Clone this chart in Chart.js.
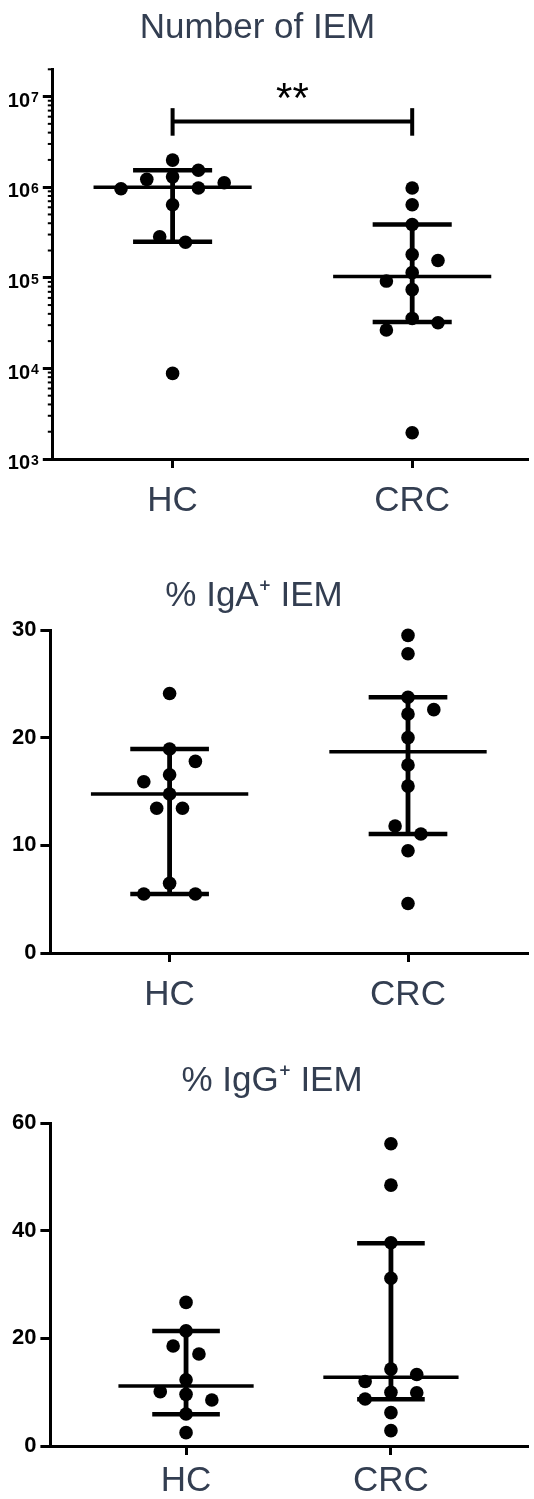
<!DOCTYPE html>
<html><head><meta charset="utf-8">
<script src="https://cdn.jsdelivr.net/npm/chart.js@4.4.1/dist/chart.umd.min.js"></script>
<style>
html,body{margin:0;padding:0;background:#fff;}
body{width:534px;height:1499px;overflow:hidden;position:relative;}
.panel{position:absolute;}
canvas{display:block;}
</style></head><body>
<div class="panel" id="w1"><canvas id="c1"></canvas></div>
<div class="panel" id="w2"><canvas id="c2"></canvas></div>
<div class="panel" id="w3"><canvas id="c3"></canvas></div>
<script>
// ---------------- data ----------------
const categories = ['HC', 'CRC'];

// Number of IEM (log scale)
const iemHC  = [1.99e6, 1.54e6, 1.3e6, 1.22e6, 1.12e6, 9.8e5, 9.6e5, 6.4e5, 2.83e5, 2.47e5, 8.8e3];
const iemCRC = [9.8e5, 6.4e5, 3.87e5, 1.81e5, 1.55e5, 1.14e5, 9.2e4, 7.4e4, 3.56e4, 3.19e4, 2.65e4, 1.95e3];
const iemHCSummary  = [2.5e5, 1.0e6, 1.54e6];   // q1, median, q3
const iemCRCSummary = [3.25e4, 1.03e5, 3.87e5];
const iemTicks = [1e3, 1e4, 1e5, 1e6, 1e7];
const iemSigBracket = [3.7e6, 5.3e6, 7.45e6];    // tick bottom, bar level, tick top
const iemSigLabel = '**';

// % IgA+ IEM
const igaHC  = [24.1, 18.95, 17.8, 16.56, 15.9, 14.77, 13.44, 13.44, 6.47, 5.48, 5.48];
const igaCRC = [29.5, 27.8, 23.75, 22.6, 22.2, 20.0, 17.46, 15.5, 11.8, 11.05, 9.5, 4.6];
const igaHCSummary  = [5.48, 14.77, 18.95];
const igaCRCSummary = [11.05, 18.7, 23.75];
const igaTicks = [0, 10, 20, 30];

// % IgG+ IEM
const iggHC  = [26.7, 21.4, 18.6, 17.1, 12.3, 10.1, 9.6, 8.56, 5.95, 2.48];
const iggCRC = [56.2, 48.5, 37.8, 31.2, 14.3, 13.3, 12.0, 9.98, 9.9, 8.74, 6.2, 2.85];
const iggHCSummary  = [5.9, 11.16, 21.4];
const iggCRCSummary = [8.68, 12.77, 37.7];
const iggTicks = [0, 20, 40, 60];

// ---------------- style / layout ----------------
const FONT = '"Liberation Sans", Arial, Helvetica, sans-serif';
const SLATE = '#333e51';
const SWARM_STEP = 25.8;   // px between swarm columns
const SWARM_GAP = 14;      // px vertical distance that counts as overlap
const MEDIAN_HALF = 0.33, CAP_HALF = 0.165;

const panels = [
  { canvas:'c1', wrap:'w1', title:'Number of IEM', hc:iemHC, crc:iemCRC, hcSum:iemHCSummary, crcSum:iemCRCSummary,
    ticks:iemTicks, log:true, yMin:1e3, yMax:2e7, xMin:0.5, xMax:2.48,
    box:{left:-19, top:0, width:553, height:540}, area:{left:71.8, top:69.3, bottom:459}, titleMid:28.2, labelPad:13,
    sig:iemSigBracket, sigLabel:iemSigLabel },
  { canvas:'c2', wrap:'w2', title:'% IgA\u207A IEM', hc:igaHC, crc:igaCRC, hcSum:igaHCSummary, crcSum:igaCRCSummary,
    ticks:igaTicks, log:false, yMin:0, yMax:30, xMin:0.5, xMax:2.5,
    box:{left:-26, top:560, width:560, height:455}, area:{left:76.4, top:70, bottom:393}, titleMid:36.2, labelPad:13 },
  { canvas:'c3', wrap:'w3', title:'% IgG\u207A IEM', hc:iggHC, crc:iggCRC, hcSum:iggHCSummary, crcSum:iggCRCSummary,
    ticks:iggTicks, log:false, yMin:0, yMax:60, xMin:0.338, xMax:2.665,
    box:{left:10, top:1050, width:524, height:449}, area:{left:40.4, top:73.3, bottom:396}, titleMid:31.2, labelPad:6 }
];
const panelById = {};
panels.forEach(p => panelById[p.canvas] = p);

function lineDs(data, w) {
  return { type:'line', data, borderColor:'#000', borderWidth:w, pointRadius:0, fill:false,
           tension:0, borderCapStyle:'butt', clip:false, order:2 };
}
function summaryDs(cat, sum) {
  const [q1, med, q3] = sum;
  return [
    lineDs([{x:cat - MEDIAN_HALF, y:med}, {x:cat + MEDIAN_HALF, y:med}], 3.5),
    lineDs([{x:cat, y:q1}, {x:cat, y:q3}], 4.8),
    lineDs([{x:cat - CAP_HALF, y:q3}, {x:cat + CAP_HALF, y:q3}], 4.5),
    lineDs([{x:cat - CAP_HALF, y:q1}, {x:cat + CAP_HALF, y:q1}], 4.5)
  ];
}
function pointsDs(cat, vals) {
  return { type:'scatter', data: vals.map(v => ({x:cat, y:v})), pointRadius:6.8, pointHoverRadius:6.8,
           pointBackgroundColor:'#000', pointBorderWidth:0, showLine:false, clip:false, order:1 };
}
// beeswarm: top-down greedy, alternating sides; isolated overlapping pairs are centred (±0.5)
function swarmColumns(vals, yScale) {
  const py = vals.map(v => yScale.getPixelForValue(v));
  const idx = vals.map((v, i) => i).sort((a, b) => py[a] - py[b]);
  const placed = [], cols = new Array(vals.length);
  let lastSide = -1;
  idx.forEach(i => {
    const order = [0];
    for (let k = 1; k <= 4; k++) order.push(-lastSide * k, lastSide * k);
    for (const c of order) {
      if (!placed.some(p => p.c === c && Math.abs(p.y - py[i]) < SWARM_GAP)) {
        cols[i] = c; placed.push({c, y:py[i]});
        if (c !== 0) lastSide = Math.sign(c);
        break;
      }
    }
  });
  let comp = [idx[0]];
  const flush = () => { if (comp.length === 2) { cols[comp[0]] = -0.5; cols[comp[1]] = 0.5; } };
  for (let j = 1; j < idx.length; j++) {
    if (py[idx[j]] - py[idx[j - 1]] < SWARM_GAP) comp.push(idx[j]);
    else { flush(); comp = [idx[j]]; }
  }
  flush();
  return cols;
}

const extras = {
  id: 'extras',
  afterDraw(chart) {
    const p = panelById[chart.canvas.id];
    if (!p) return;
    const ctx = chart.ctx, ys = chart.scales.y, xs = chart.scales.x;
    ctx.save();
    if (p.log) {
      ctx.strokeStyle = '#000'; ctx.lineWidth = 2;
      for (let k = Math.round(Math.log10(p.yMin)); k < Math.log10(p.yMax); k++) {
        for (let m = 2; m <= 9; m++) {
          const v = m * Math.pow(10, k);
          if (v > p.yMax) break;
          const py = ys.getPixelForValue(v);
          ctx.beginPath(); ctx.moveTo(ys.right - 5, py); ctx.lineTo(ys.right, py); ctx.stroke();
        }
      }
      ctx.fillStyle = '#000'; ctx.textAlign = 'right'; ctx.textBaseline = 'alphabetic';
      p.ticks.forEach(v => {
        const e = String(Math.round(Math.log10(v)));
        const py = ys.getPixelForValue(v);
        const right = ys.right - 14;
        ctx.font = 'bold 14px ' + FONT;
        const ew = ctx.measureText(e).width;
        const base = py + 10.2;
        ctx.fillText(e, right, base - 14.3 + 10);
        ctx.font = 'bold 20px ' + FONT;
        ctx.fillText('10', right - ew - 1, base);
      });
    }
    if (p.sig) {
      ctx.fillStyle = '#000'; ctx.textAlign = 'center'; ctx.textBaseline = 'alphabetic';
      ctx.font = '42px ' + FONT;
      const px = (xs.getPixelForValue(1) + xs.getPixelForValue(2)) / 2;
      const topY = ys.getPixelForValue(p.sig[2]);
      ctx.fillText(p.sigLabel, px, topY + 4);
    }
    ctx.restore();
  }
};

panels.forEach(p => {
  const wrap = document.getElementById(p.wrap);
  wrap.style.left = p.box.left + 'px'; wrap.style.top = p.box.top + 'px';
  const cv = document.getElementById(p.canvas);
  cv.width = p.box.width; cv.height = p.box.height;

  const datasets = [
    pointsDs(1, p.hc), pointsDs(2, p.crc),
    ...summaryDs(1, p.hcSum), ...summaryDs(2, p.crcSum)
  ];
  if (p.sig) {
    const [lo, lvl, hi] = p.sig;
    datasets.push(lineDs([{x:1, y:lvl}, {x:2, y:lvl}], 4));
    datasets.push(lineDs([{x:1, y:lo}, {x:1, y:hi}], 4));
    datasets.push(lineDs([{x:2, y:lo}, {x:2, y:hi}], 4));
  }
  const titleFont = 35, titleLH = titleFont * 1.2;
  const titlePadTop = p.titleMid - titleLH / 2;
  const titlePadBottom = p.area.top - titlePadTop - titleLH;

  const chart = new Chart(cv, {
    type: 'scatter',
    data: { datasets },
    plugins: [extras],
    options: {
      responsive: false, animation: false, devicePixelRatio: 1,
      events: [],
      layout: { padding: 0 },
      plugins: {
        legend: { display: false }, tooltip: { enabled: false },
        title: { display: true, text: p.title, color: SLATE,
                 font: { family: FONT, size: titleFont, weight: 'normal', lineHeight: 1.2 },
                 padding: { top: titlePadTop, bottom: titlePadBottom } }
      },
      scales: {
        x: {
          type: 'linear', min: p.xMin, max: p.xMax,
          afterBuildTicks: s => { s.ticks = [{value:1}, {value:2}]; },
          afterFit: s => { s.height = p.box.height - p.area.bottom; },
          ticks: { callback: v => categories[Math.round(v) - 1] || '', color: SLATE,
                   font: { family: FONT, size: 35, lineHeight: 1.2 }, padding: p.labelPad - 0.6,
                   maxRotation: 0, autoSkip: false },
          grid: { drawOnChartArea: false, drawTicks: true, tickLength: 9, color: '#000', lineWidth: 3 },
          border: { display: true, color: '#000', width: 3 }
        },
        y: {
          type: p.log ? 'logarithmic' : 'linear', min: p.yMin, max: p.yMax,
          afterBuildTicks: s => { s.ticks = p.ticks.map(v => ({value:v})); },
          afterFit: s => { s.width = p.area.left; },
          ticks: { callback: v => p.log ? '' : String(v), color: '#000',
                   font: { family: FONT, size: 22, weight: 'bold' }, padding: 4, autoSkip: false },
          grid: { drawOnChartArea: false, drawTicks: true, tickLength: 10, color: '#000', lineWidth: 3 },
          border: { display: true, color: '#000', width: 3 }
        }
      }
    }
  });

  const ys = chart.scales.y, xs = chart.scales.x;
  const ppu = xs.getPixelForValue(2) - xs.getPixelForValue(1);
  [p.hc, p.crc].forEach((vals, k) => {
    const cols = swarmColumns(vals, ys);
    chart.data.datasets[k].data = vals.map((v, i) => ({ x: k + 1 + cols[i] * SWARM_STEP / ppu, y: v }));
  });
  chart.update('none');
});
</script>
</body></html>
